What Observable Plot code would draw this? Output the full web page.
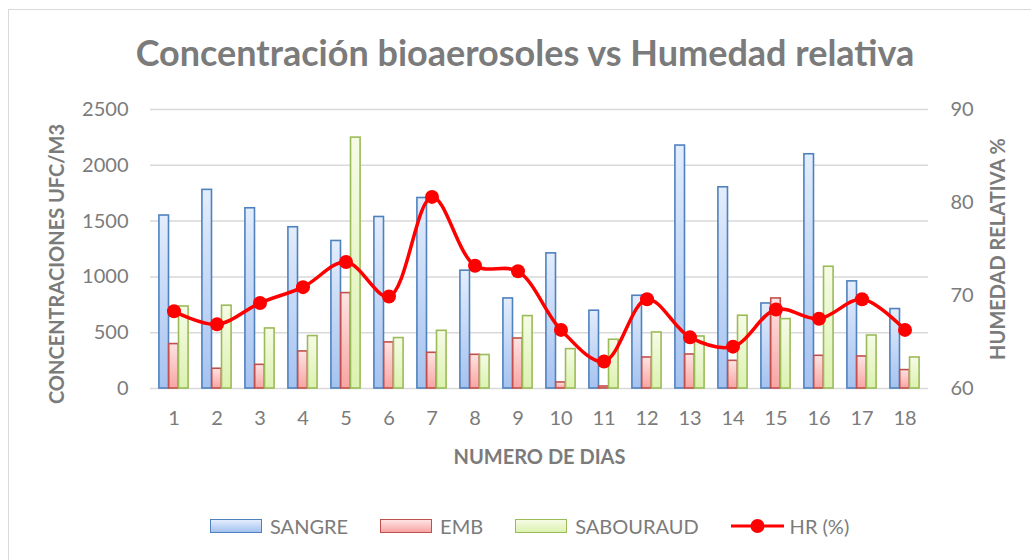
<!DOCTYPE html>
<html><head><meta charset="utf-8">
<script src="https://cdn.jsdelivr.net/npm/d3@7"></script>
<script src="https://cdn.jsdelivr.net/npm/@observablehq/plot@0.6"></script>
<style>
body{margin:0;background:#fff;font-family:Lato,sans-serif;}
#wrap{position:relative;width:1031px;height:560px;overflow:hidden;}
#frame{position:absolute;left:8px;top:9px;width:1100px;height:600px;border-left:1.5px solid #d9d9d9;border-top:1.5px solid #d9d9d9;}
#title{position:absolute;left:0;width:1050px;top:34px;text-align:center;font:bold 36px/36px Lato,sans-serif;color:#7b7b7b;white-space:nowrap;}
#chart{position:absolute;left:0;top:0;}
#legend{position:absolute;top:512px;left:210px;display:flex;align-items:center;font:20px/28px Lato,sans-serif;color:#7b7b7b;white-space:nowrap;}
#legend .sw{width:50px;height:12px;margin-right:8px;}
#legend .lab{margin-right:32px;}
</style>
</head><body>
<div id="wrap">
  <div id="frame"></div>
  <div id="chart"></div>
  <div id="title">Concentración bioaerosoles vs Humedad relativa</div>
  <div id="legend"></div>
</div>
<script>
// ---- data ----
const days = [1,2,3,4,5,6,7,8,9,10,11,12,13,14,15,16,17,18];
const sangre = [1550,1780,1615,1445,1322,1537,1707,1056,807,1211,697,831,2177,1803,762,2099,960,712];
const emb = [398,177,212,332,855,413,320,302,448,54,18,278,305,248,807,293,287,165];
const sabouraud = [735,742,538,470,2248,452,517,300,649,353,437,502,466,652,622,1091,475,278];
const hr = [68.3,66.9,69.2,70.9,73.6,69.9,80.6,73.2,72.6,66.3,62.9,69.6,65.5,64.5,68.5,67.5,69.6,66.3];
const seriesNames = ["SANGRE","EMB","SABOURAUD"];
const lineName = "HR (%)";
const countTicks = [0,500,1000,1500,2000,2500];
const hrTicks = [60,70,80,90];
const yLabel = "CONCENTRACIONES UFC/M3";
const y2Label = "HUMEDAD RELATIVA %";
const xLabel = "NUMERO DE DIAS";

// ---- styles ----
const seriesStyle = {
  SANGRE:    {grad:"gS", stroke:"#4f81bd", top:"#e3edfc", bottom:"#a5c2f0", dx:-9.8},
  EMB:       {grad:"gE", stroke:"#c0504d", top:"#fde4e3", bottom:"#f8a5a3", dx:0},
  SABOURAUD: {grad:"gA", stroke:"#9bbb59", top:"#f6fbe6", bottom:"#dcf2b0", dx:9.8}
};
const W = 1031, H = 560;
const mL = 150, mR = 103, mT = 109, mB = 172;
const band = (W - mL - mR) / days.length;
const bw = 9.8;
const inset = (band - bw) / 2;

const rows = days.map((d, i) => ({day: d, SANGRE: sangre[i], EMB: emb[i], SABOURAUD: sabouraud[i], hr: hr[i]}));
const hrToY = d3.scaleLinear([60, 90], [0, 2500]);

const plot = Plot.plot({
  width: W, height: H,
  marginLeft: mL, marginRight: mR, marginTop: mT, marginBottom: mB,
  style: {fontFamily: "Lato, sans-serif", fontSize: "20px", color: "#7b7b7b", background: "transparent"},
  x: {type: "band", domain: days, padding: 0},
  y: {domain: [0, 2500]},
  marks: [
    Plot.gridY(countTicks, {stroke: "#d9d9d9", strokeOpacity: 1, strokeWidth: 1.5}),
    ...seriesNames.map(s => Plot.barY(rows, {
      x: "day", y: s,
      fill: `url(#${seriesStyle[s].grad})`, stroke: seriesStyle[s].stroke, strokeWidth: 1.6,
      dx: seriesStyle[s].dx, insetLeft: inset, insetRight: inset
    })),
    Plot.line(rows, {x: "day", y: d => hrToY(d.hr), stroke: "#ff0000", strokeWidth: 3.5, curve: "catmull-rom"}),
    Plot.dot(rows, {x: "day", y: d => hrToY(d.hr), r: 7, fill: "#ff0000", stroke: "none"}),
    Plot.axisY(countTicks, {anchor: "left", tickSize: 0, tickPadding: 22, label: null, fontSize: 20,
      tickFormat: v => String(v)}),
    Plot.axisY(hrTicks.map(v => hrToY(v)), {anchor: "right", tickSize: 0, tickPadding: 22, label: null, fontSize: 20,
      tickFormat: v => String(Math.round(hrToY.invert(v)))}),
    Plot.axisX({tickSize: 0, tickPadding: 22, label: null, fontSize: 20}),
    Plot.text([yLabel], {text: d => d, frameAnchor: "left", rotate: -90, dx: -93, dy: 15,
      textAnchor: "middle", lineAnchor: "middle", fontWeight: "bold", fontSize: 20}),
    Plot.text([y2Label], {text: d => d, frameAnchor: "right", rotate: -90, dx: 70, dy: 0,
      textAnchor: "middle", lineAnchor: "middle", fontWeight: "bold", fontSize: 20}),
    Plot.text([xLabel], {text: d => d, frameAnchor: "bottom", dy: 69, lineAnchor: "middle",
      fontWeight: "bold", fontSize: 20})
  ]
});

// gradients
const defs = d3.select(plot).insert("defs", ":first-child");
for (const s of seriesNames) {
  const st = seriesStyle[s];
  const g = defs.append("linearGradient").attr("id", st.grad).attr("x1", 0).attr("y1", 0).attr("x2", 0).attr("y2", 1);
  g.append("stop").attr("offset", "0%").attr("stop-color", st.top);
  g.append("stop").attr("offset", "100%").attr("stop-color", st.bottom);
}
document.getElementById("chart").appendChild(plot);

// legend
const leg = d3.select("#legend");
for (const s of seriesNames) {
  const st = seriesStyle[s];
  leg.append("div").attr("class", "sw")
    .style("background", `linear-gradient(${st.top}, ${st.bottom})`)
    .style("border", `1.5px solid ${st.stroke}`);
  leg.append("div").attr("class", "lab").text(s);
}
const ls = leg.append("svg").attr("width", 53).attr("height", 16).style("margin-right", "6px");
ls.append("line").attr("x1", 0).attr("x2", 53).attr("y1", 8).attr("y2", 8).attr("stroke", "#ff0000").attr("stroke-width", 3);
ls.append("circle").attr("cx", 26.5).attr("cy", 8).attr("r", 7).attr("fill", "#ff0000");
leg.append("div").text(lineName);
</script>
</body></html>
